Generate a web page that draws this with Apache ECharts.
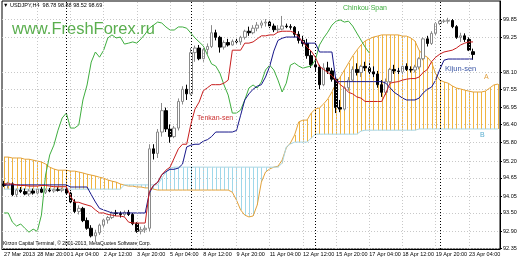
<!DOCTYPE html>
<html><head><meta charset="utf-8">
<script src="https://cdn.jsdelivr.net/npm/echarts@6/dist/echarts.min.js"></script>
<style>html,body{margin:0;padding:0;background:#fff}#c{width:520px;height:260px}</style>
</head><body><div id="c"></div>
<script>
const xLabels = ['27 Mar 2013','28 Mar 20:00','1 Apr 04:00','2 Apr 12:00','3 Apr 20:00','5 Apr 04:00','8 Apr 12:00','9 Apr 20:00','11 Apr 04:00','12 Apr 12:00','15 Apr 20:00','17 Apr 04:00','18 Apr 12:00','19 Apr 20:00','23 Apr 04:00'];
const yTicks = [99.85,99.25,98.10,97.55,96.95,96.40,95.80,95.20,94.65,94.05,93.50,92.90,92.35];
const lastPrice = 98.69;
const separators = [15,45,75,105];
// [open, high, low, close]
const candles = [
[94.45,94.55,94.35,94.40],[94.40,94.52,94.30,94.48],[94.45,94.50,94.05,94.10],[94.10,94.30,94.02,94.25],
[94.25,94.35,94.15,94.20],[94.20,94.30,94.08,94.12],[94.12,94.28,94.05,94.22],[94.22,94.30,94.10,94.15],
[94.15,94.32,94.08,94.28],[94.28,94.35,94.15,94.18],[94.18,94.30,94.12,94.25],[94.25,94.32,94.18,94.22],
[94.22,94.30,94.16,94.26],[94.26,94.34,94.20,94.24],[94.24,94.33,94.18,94.28],[94.28,94.35,94.10,94.15],
[94.15,94.25,93.82,93.86],[93.86,93.95,93.50,93.55],[93.55,93.75,93.45,93.65],[93.65,93.70,93.20,93.25],
[93.25,93.35,92.95,93.00],[93.00,93.10,92.70,92.75],[92.75,92.95,92.55,92.85],[92.85,93.15,92.78,93.10],
[93.10,93.30,93.00,93.27],[93.27,93.40,93.15,93.35],[93.35,93.55,93.30,93.50],[93.50,93.60,93.40,93.48],
[93.48,93.55,93.35,93.45],[93.45,93.58,93.38,93.52],[93.52,93.60,93.40,93.45],[93.45,93.50,93.10,93.15],
[93.15,93.20,92.85,92.90],[92.90,93.05,92.80,92.95],[92.95,93.10,92.85,93.00],[93.00,95.75,92.90,95.60],
[95.60,95.75,95.25,95.45],[95.45,96.25,95.30,96.15],[96.15,97.10,96.00,96.85],[96.85,96.95,96.15,96.25],
[96.25,96.40,95.80,96.00],[96.00,96.35,95.95,96.28],[96.28,97.25,96.20,97.15],[97.15,97.65,97.05,97.55],
[97.55,97.70,97.20,97.40],[97.40,98.90,97.35,98.75],[98.75,98.98,98.45,98.90],[98.90,99.00,98.50,98.55],
[98.55,98.95,98.45,98.85],[98.85,99.05,98.70,98.95],[98.95,99.65,98.90,99.40],[99.40,99.50,99.15,99.25],
[99.25,99.30,98.75,98.93],[98.93,99.15,98.85,99.08],[99.08,99.20,98.95,99.00],[99.00,99.18,98.98,99.12],
[99.12,99.20,99.05,99.10],[99.10,99.30,99.00,99.25],[99.25,99.50,99.18,99.45],[99.45,99.60,99.30,99.40],
[99.40,99.65,99.35,99.55],[99.55,99.75,99.45,99.65],[99.65,99.80,99.55,99.72],[99.72,99.85,99.60,99.75],
[99.75,99.82,99.55,99.62],[99.62,99.70,99.42,99.50],[99.50,99.65,99.40,99.52],[99.52,99.95,99.48,99.62],
[99.62,99.70,99.55,99.60],[99.60,99.68,99.50,99.58],[99.58,99.62,99.25,99.35],[99.35,99.45,99.05,99.15],
[99.15,99.30,98.95,99.05],[99.05,99.20,98.55,98.65],[98.65,98.80,98.25,98.35],[98.35,98.50,98.15,98.28],
[98.28,98.35,97.55,97.70],[97.70,98.40,97.65,98.25],[98.25,98.45,98.05,98.15],[98.15,98.25,97.80,97.88],
[97.88,97.95,96.77,96.95],[96.95,97.20,96.80,96.90],[96.90,97.65,96.85,97.60],[97.60,97.95,97.50,97.85],
[97.85,98.30,97.80,98.20],[98.20,98.40,98.00,98.10],[98.10,98.35,97.95,98.30],[98.30,98.45,98.15,98.25],
[98.25,98.40,98.05,98.12],[98.12,98.30,97.95,98.05],[98.05,98.15,97.60,97.70],[97.70,97.85,97.30,97.45],
[97.45,97.90,97.36,97.80],[97.80,98.25,97.75,98.20],[98.20,98.35,98.05,98.15],[98.15,98.25,98.05,98.13],
[98.13,98.35,98.05,98.30],[98.30,98.40,98.15,98.20],[98.20,98.30,98.10,98.18],[98.18,98.35,98.10,98.28],
[98.28,98.60,98.20,98.55],[98.55,99.25,98.50,99.20],[99.20,99.30,98.95,99.05],[99.05,99.45,99.00,99.38],
[99.38,99.75,99.30,99.70],[99.70,99.82,99.65,99.78],[99.78,99.85,99.72,99.78],[99.78,99.89,99.70,99.80],
[99.80,99.85,99.55,99.60],[99.60,99.65,99.20,99.25],[99.25,99.40,99.10,99.30],[99.30,99.38,99.10,99.18],
[99.18,99.25,98.80,98.83],[98.78,98.88,98.52,98.69]
];
const tenkan = [94.45,94.45,94.45,94.42,94.40,94.40,94.38,94.38,94.38,94.40,94.40,94.38,94.36,94.36,94.36,94.36,
94.05,93.85,93.85,93.80,93.76,93.72,93.60,93.50,93.50,93.45,93.43,93.40,93.40,93.37,93.20,93.17,93.17,93.17,93.17,
94.20,94.40,94.50,94.75,94.90,95.00,95.30,95.60,95.75,95.75,96.40,96.90,97.13,97.50,97.60,97.70,97.70,97.70,97.75,97.85,
98.83,98.83,98.83,99.06,99.06,99.10,99.20,99.30,99.30,99.33,99.33,99.42,99.45,99.45,99.45,99.40,99.26,99.10,98.93,98.80,98.60,
98.30,98.20,98.10,98.00,97.85,97.70,97.60,97.45,97.40,97.30,97.26,97.15,97.15,97.15,97.15,97.15,
97.43,97.75,97.78,97.80,97.85,97.88,97.90,97.90,97.95,98.10,98.20,98.45,98.60,98.70,98.77,98.80,98.83,98.90,99.00,99.06,99.10,99.10];
const kijun = [94.42,94.42,94.42,94.42,94.42,94.42,94.42,94.42,94.42,94.42,94.42,94.42,94.42,94.42,94.42,94.42,
94.35,94.35,94.35,94.35,94.35,94.10,93.86,93.65,93.60,93.55,
93.50,93.50,93.50,93.50,93.50,93.50,93.50,93.50,93.50,
94.15,94.40,94.50,94.75,94.85,94.93,94.93,94.97,95.10,95.66,95.72,95.75,95.75,95.85,95.90,96.00,96.15,96.15,96.15,96.15,96.15,96.20,
96.70,97.20,97.40,97.55,97.65,97.70,97.95,98.30,98.80,99.15,99.22,99.26,99.26,99.26,99.26,
99.06,99.06,99.06,99.06,98.77,98.77,98.77,98.77,
97.80,97.80,97.80,97.80,97.80,97.80,97.80,97.80,97.80,97.80,97.80,97.80,
97.75,97.60,97.45,97.36,97.26,97.20,97.20,97.20,97.26,97.43,97.55,97.62,97.85,98.20,98.50,
98.54,98.54,98.54,98.54,98.54,98.54,98.54];
const chikou = [93.50,93.50,93.20,93.07,93.14,93.00,92.87,92.97,92.90,93.43,94.74,95.40,95.72,96.21,96.61,96.77,
96.28,96.28,96.38,97.20,97.69,98.44,98.77,98.60,98.83,99.23,99.33,99.23,99.26,99.03,99.06,99.10,99.06,99.20,99.36,
99.55,99.65,99.75,99.72,99.59,99.49,99.49,99.59,99.59,99.55,99.39,99.23,99.10,98.97,98.67,98.38,98.31,98.08,97.69,97.36,
96.77,96.77,96.87,97.20,97.59,97.69,97.59,97.79,98.18,98.34,98.18,97.85,97.46,97.75,98.34,98.41,98.31,98.24,98.28,98.31,
98.51,99.00,99.23,99.42,99.65,99.78,99.82,99.75,99.78,99.62,99.39,99.16,98.93,98.74];
const spanA = [95.33,95.33,95.30,95.30,95.30,95.26,95.26,95.23,95.20,95.17,95.10,95.00,94.94,94.90,94.90,94.90,94.87,94.87,94.84,94.81,
94.77,94.74,94.71,94.67,94.64,94.58,94.54,94.51,94.45,94.41,94.38,94.38,94.35,94.35,94.32,94.32,94.28,94.25,
94.25,94.25,94.25,94.25,94.25,94.25,94.25,94.25,94.25,94.25,94.25,94.25,94.25,94.25,94.25,94.25,94.25,
94.18,93.92,93.60,93.43,93.37,93.40,93.76,
94.51,94.84,94.94,95.00,95.03,95.23,95.63,95.79,96.05,96.48,96.54,96.54,96.77,96.90,96.94,97.07,97.23,97.46,97.75,97.95,
98.18,98.41,98.64,98.83,99.00,99.13,99.20,99.26,99.29,99.33,99.33,99.33,99.33,99.33,99.29,99.29,99.23,99.13,
98.83,98.67,98.60,98.44,98.05,97.85,97.79,97.75,97.66,97.59,97.56,97.52,97.49,97.46,97.46,97.46,97.49,97.59,97.69,97.72];
const spanB = [94.28,94.28,94.28,94.28,94.28,94.28,94.28,94.28,94.28,94.28,94.28,94.28,94.28,94.28,94.28,94.28,94.28,94.28,94.28,94.28,
94.28,94.28,94.28,94.28,94.28,94.28,94.28,94.28,94.28,
94.42,94.42,94.42,94.42,94.42,94.42,94.42,94.42,94.42,
94.64,94.84,94.97,
95.00,95.00,95.00,95.00,95.00,95.00,95.00,95.00,95.00,95.00,95.00,95.00,95.00,95.00,95.00,95.00,95.00,95.00,95.00,95.00,95.00,95.00,95.00,95.00,95.00,95.00,
95.13,95.66,95.76,95.82,95.82,95.82,95.82,95.95,
96.08,96.08,96.08,96.08,96.08,96.08,96.08,96.08,96.08,96.08,96.08,96.18,
96.21,96.21,96.21,96.21,96.21,96.21,96.21,96.21,96.21,96.21,96.21,96.21,96.21,
96.25,96.25,96.25,96.25,96.25,96.25,96.25,96.25,96.25,96.25,96.25,96.25,96.25,96.25,96.25,96.25,96.25,96.25,96.25,96.25];

const N = 120;
const cats = [];
for (let i = 0; i < N; i++) cats.push(String(i));
const candleData = candles.map(r => [r[0], r[3], r[2], r[1]]);
const cloudData = spanA.map((a, i) => [i, a, spanB[i]]);
const FONT = 'Liberation Sans';
const SANDY = '#f0b440', CYAN = '#9fd8ea';

const vGrid = [];
for (let i = 8; i < N; i += 8) vGrid.push({ xAxis: String(i) });

const chart = echarts.init(document.getElementById('c'), null, { renderer: 'canvas' });
chart.setOption({
  animation: false,
  backgroundColor: '#fff',
  grid: { left: 2, right: 20, top: 1, bottom: 11, show: true, borderColor: '#000', borderWidth: 1,
          containLabel: false, outerBoundsMode: 'none' },
  xAxis: {
    type: 'category', data: cats, boundaryGap: true,
    axisLine: { lineStyle: { color: '#000', width: 1 } },
    axisTick: { interval: (i) => i % 8 === 0, alignWithLabel: true, length: 2, lineStyle: { color: '#000' } },
    axisLabel: { interval: (i) => i % 8 === 0, formatter: (v, i) => (i % 8 === 0 ? (xLabels[i / 8] || '') : ''),
                 align: 'left', margin: 2, fontSize: 5.5, color: '#000', fontFamily: FONT },
    splitLine: { show: false }
  },
  yAxis: {
    type: 'value', position: 'right', min: 92.32, max: 100.44, scale: true,
    axisLine: { show: true, lineStyle: { color: '#000', width: 1 } },
    axisTick: { show: true, customValues: yTicks, length: 2, lineStyle: { color: '#000' } },
    axisLabel: { customValues: yTicks, formatter: (v) => v.toFixed(2), margin: 3, fontSize: 5.5, color: '#000', fontFamily: FONT },
    splitLine: { show: true, lineStyle: { color: '#c8c8c8', type: [1, 2], width: 1 } }
  },
  series: [
    {
      type: 'custom', name: 'cloud', data: cloudData, clip: true, z: 1,
      encode: { x: 0, y: [1, 2] },
      renderItem: (params, api) => {
        const i = api.value(0), a = api.value(1), b = api.value(2);
        const p1 = api.coord([i, a]), p2 = api.coord([i, b]);
        const top = Math.min(p1[1], p2[1]), h = Math.abs(p1[1] - p2[1]);
        return { type: 'rect', shape: { x: Math.round(p1[0]), y: top, width: 1, height: h },
                 style: { fill: a >= b ? SANDY : CYAN } };
      },
      markLine: { silent: true, symbol: 'none', label: { show: false }, animation: false,
                  lineStyle: { color: '#c8c8c8', type: [1, 2], width: 1 }, data: vGrid }
    },
    { type: 'line', name: 'A', data: spanA, symbol: 'none', z: 2, lineStyle: { color: '#e3a23a', width: 1 } },
    { type: 'line', name: 'B', data: spanB, symbol: 'none', z: 2, lineStyle: { color: '#a8d6e4', width: 1 } },
    {
      type: 'candlestick', name: 'USDJPY', data: candleData, barWidth: 3, z: 3,
      itemStyle: { color: '#ffffff', color0: '#000000', borderColor: '#8a8a8a', borderColor0: '#000000', borderWidth: 1 },
      markLine: { silent: true, symbol: 'none', label: { show: false }, animation: false,
                  lineStyle: { color: '#000', type: [1, 2], width: 1 },
                  data: separators.map(s => ({ xAxis: String(s) })) }
    },
    { type: 'line', name: 'Chikou', data: chikou, symbol: 'none', z: 4, lineStyle: { color: '#3fae3f', width: 1 } },
    { type: 'line', name: 'Kijun', data: kijun, symbol: 'none', z: 4, lineStyle: { color: '#16168a', width: 1 } },
    {
      type: 'line', name: 'Tenkan', data: tenkan, symbol: 'none', z: 5, lineStyle: { color: '#c81e1e', width: 1 },
      markLine: { silent: true, symbol: 'none', animation: false, lineStyle: { opacity: 0 },
                  data: [{ yAxis: lastPrice }],
                  label: { show: true, position: 'end', distance: 0, formatter: lastPrice.toFixed(2), color: '#fff',
                           backgroundColor: '#0d0d5e', padding: [1, 2, 0, 2], fontSize: 5.5, fontFamily: FONT } }
    }
  ],
  graphic: [
    { type: 'text', left: 3, top: 2, style: { text: '\u25BC USDJPY,H4  98.78 98.88 98.52 98.69', font: '5.5px ' + FONT, fill: '#000' } },
    { type: 'text', left: 12, top: 21, style: { text: 'www.FreshForex.ru', font: '16.5px ' + FONT, fill: '#5aae4e' } },
    { type: 'text', left: 343, top: 5, style: { text: 'Chinkou Span', font: '7px ' + FONT, fill: '#3fae3f' } },
    { type: 'text', left: 197, top: 115, style: { text: 'Tenkan-sen', font: '7px ' + FONT, fill: '#cc3030' } },
    { type: 'text', left: 445, top: 65, style: { text: 'Kijun-sen', font: '7.5px ' + FONT, fill: '#3a55a5' } },
    { type: 'text', left: 484, top: 74, style: { text: 'A', font: '7px ' + FONT, fill: '#e0a040' } },
    { type: 'text', left: 480, top: 132, style: { text: 'B', font: '7px ' + FONT, fill: '#5aaed0' } },
    { type: 'text', left: 3, top: 241, style: { text: 'Kirzon Capital Terminal, \u00A9 2001-2013, MetaQuotes Software Corp.', font: '5px ' + FONT, fill: '#000' } }
  ]
});
</script></body></html>
